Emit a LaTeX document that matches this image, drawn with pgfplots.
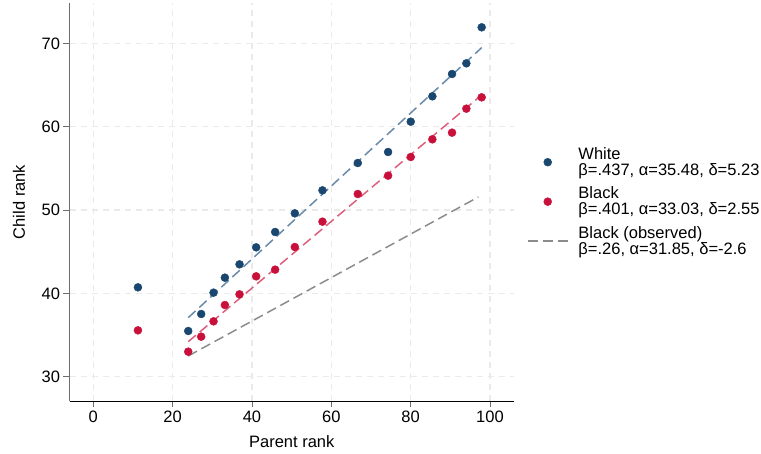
\documentclass[border=0pt]{standalone}
\usepackage{pgfplots}
\pgfplotsset{compat=1.18}
\usepackage{fontspec}
\setmainfont{Liberation Sans}
\definecolor{wcol}{RGB}{26,71,111}
\definecolor{bcol}{RGB}{200,16,58}
\definecolor{wline}{RGB}{105,138,170}
\definecolor{bline}{RGB}{222,95,125}
\definecolor{oline}{RGB}{140,140,140}
\definecolor{gridc}{RGB}{234,234,234}
\definecolor{yax}{RGB}{110,110,110}
\pgfplotstableread{
x y
11.25 40.72
23.93 35.48
27.20 37.52
30.31 40.08
33.17 41.88
36.86 43.48
41.06 45.52
45.84 47.36
50.80 49.60
57.77 52.36
66.67 55.64
74.31 56.96
80.02 60.60
85.47 63.64
90.43 66.32
94.04 67.60
97.90 71.92
}\white
\pgfplotstableread{
x y
11.25 35.56
23.93 33.00
27.20 34.80
30.31 36.64
33.17 38.60
36.86 39.88
41.06 42.04
45.84 42.84
50.80 45.56
57.77 48.60
66.67 51.92
74.31 54.12
80.02 56.36
85.47 58.48
90.43 59.28
94.04 62.16
97.90 63.52
}\black
\begin{document}
\begin{tikzpicture}
\path[use as bounding box] (0,0) rectangle (761bp,454bp);
\begin{axis}[
  at={(69.5bp,53bp)}, anchor=south west,
  scale only axis, width=444.5bp, height=398bp,
  xmin=-6, xmax=106.05, ymin=27.08, ymax=74.84,
  axis lines*=left,
  x axis line style={black, line width=0.9bp},
  y axis line style={yax, line width=0.9bp},
  xtick={0,20,...,100}, ytick={30,40,...,70},
  tick align=outside, major tick length=6bp,
  tick style={yax, line width=0.9bp},
  grid=major,
  grid style={gridc, line width=1.2bp, dash pattern=on 6bp off 5bp},
  /pgf/number format/assume math mode=true,
  ticklabel style={font=\fontsize{16.5bp}{18bp}\selectfont},
  xlabel={Parent rank}, ylabel={Child rank},
  label style={font=\fontsize{16.5bp}{18bp}\selectfont},
  xlabel style={at={(axis description cs:0.5,-0.118)}, anchor=base},
  ylabel style={at={(axis description cs:-0.128,0.5)}, anchor=north, inner sep=0pt},
  legend cell align=left,
  legend style={at={(axis description cs:1.0292,0.637)}, anchor=north west,
    draw=none, fill=none, inner sep=0pt, outer sep=0pt,
    row sep=10bp, column sep=10bp,
    font=\fontsize{16.5bp}{16bp}\selectfont,
    nodes={inner sep=0pt, align=left}},
]
\addplot[forget plot, wline, line width=1.5bp, dash pattern=on 10bp off 5bp] coordinates {(23.93,37.08) (97.9,69.48)};
\addplot[forget plot, bline, line width=1.5bp, dash pattern=on 10bp off 5bp] coordinates {(23.93,34.2) (97.9,63.8)};
\addplot[forget plot, oline, line width=1.5bp, dash pattern=on 10bp off 5bp] coordinates {(23.93,32.48) (97.06,51.56)};
\addplot[forget plot, only marks, mark=*, mark size=4bp, wcol, mark options={fill=wcol, draw=wcol}] table[x=x,y=y] {\white};
\addplot[forget plot, only marks, mark=*, mark size=4bp, bcol, mark options={fill=bcol, draw=bcol}] table[x=x,y=y] {\black};
\addlegendimage{legend image code/.code={\fill[wcol] (20bp,0bp) circle (4bp);}}
\addlegendentry{White\\β=.437, α=35.48, δ=5.23}
\addlegendimage{legend image code/.code={\fill[bcol] (20bp,0bp) circle (4bp);}}
\addlegendentry{Black\\β=.401, α=33.03, δ=2.55}
\addlegendimage{legend image code/.code={\draw[oline, line width=1.5bp, dash pattern=on 10bp off 5bp] (0bp,0bp) -- (40bp,0bp);}}
\addlegendentry{Black (observed)\\β=.26, α=31.85, δ=-2.6}
\end{axis}
\end{tikzpicture}
\end{document}
